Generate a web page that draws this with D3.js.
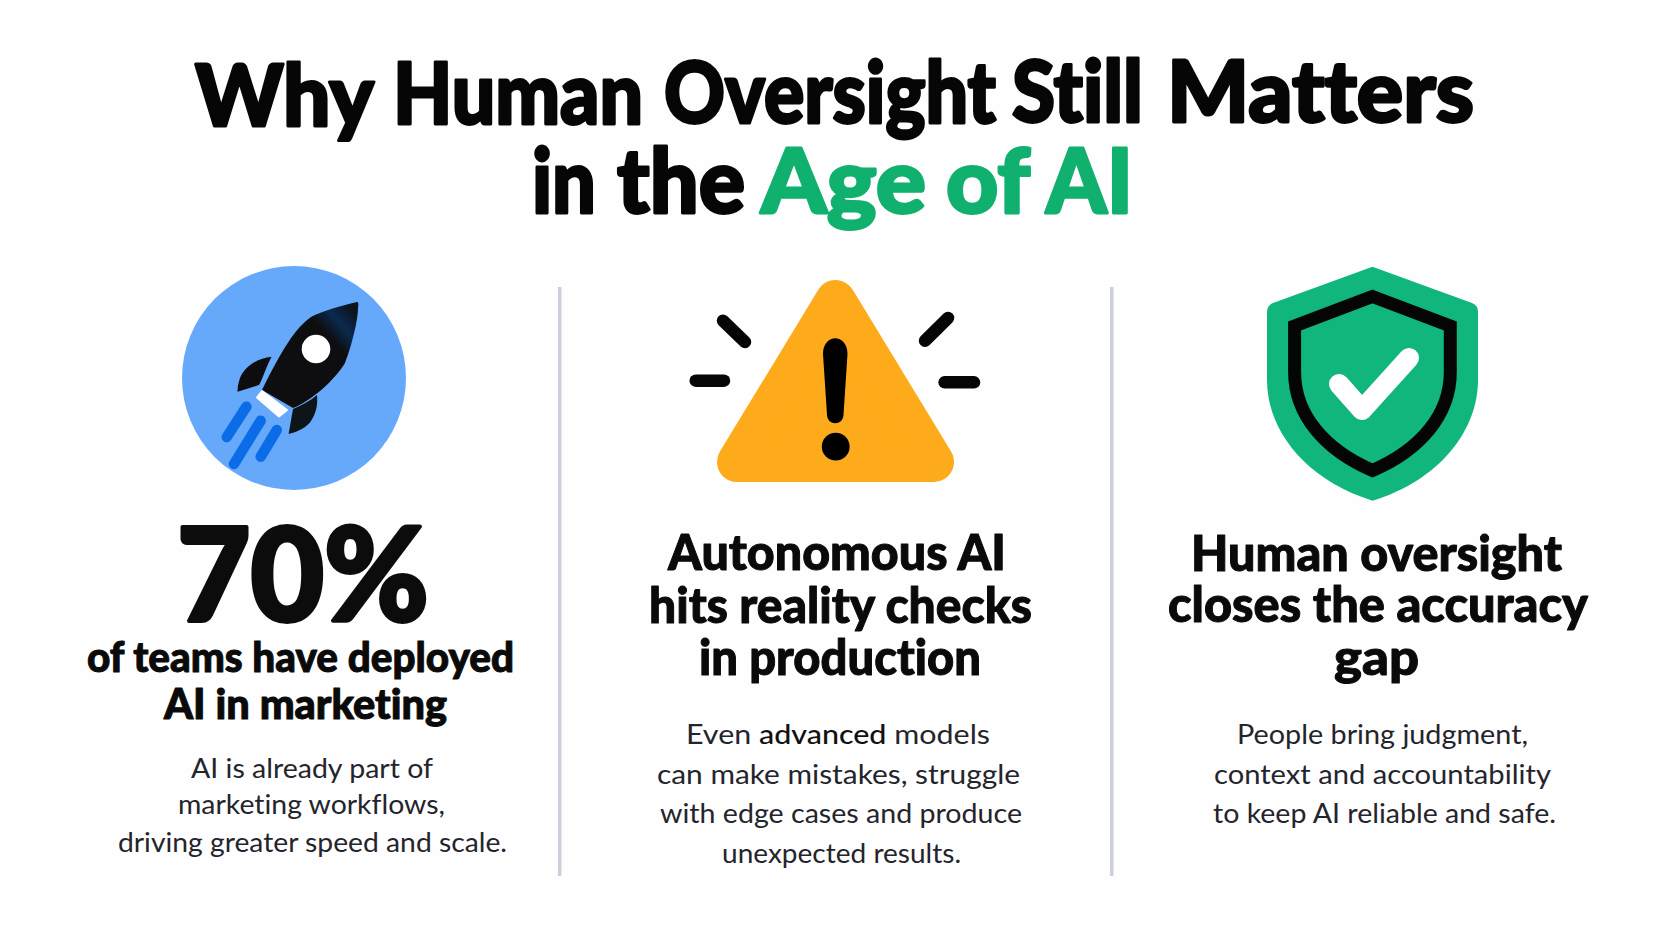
<!DOCTYPE html>
<html>
<head>
<meta charset="utf-8">
<script src="https://cdn.jsdelivr.net/npm/d3@7"></script>
<style>
html, body { margin: 0; padding: 0; background: #fefefe; overflow: hidden; }
text { font-family: Lato, Inter, "Noto Sans", sans-serif; font-variant-ligatures: none; stroke-linejoin: round; }
</style>
</head>
<body>
<svg id="chart" width="1672" height="941"></svg>
<script>
// text of the picture
var titleWords = ["Why", "Human", "Oversight", "Still", "Matters", "in", "the", "Age", "of", "AI"]
var statValue = 70
var statSuffix = "%"
var headLines = ["of teams have deployed", "AI in marketing",
                 "Autonomous AI", "hits reality checks", "in production",
                 "Human oversight", "closes the accuracy", "gap"]
var bodyLines = ["AI is already part of", "marketing workflows,", "driving greater speed and scale.",
                 "Even advanced models", "can make mistakes, struggle", "with edge cases and produce", "unexpected results.",
                 "People bring judgment,", "context and accountability", "to keep AI reliable and safe."]

// where each piece of text sits: [left, right, baseline]
var titlePos = [[195, 374, 126], [393, 643, 124], [664, 996, 123], [1012, 1143, 122], [1167, 1474, 122],
                [532, 596, 213], [617, 745, 213], [761, 926, 213], [946, 1030, 213], [1046, 1133, 213]]
var statPos = [177, 429, 621]
var headPos = [[87, 514, 672], [164, 447, 719],
               [668, 1006, 570], [649, 1032, 623], [699, 981, 675],
               [1191, 1562, 571], [1168, 1588, 622], [1334, 1419, 675]]
var bodyPos = [[191, 433, 778], [178, 445, 814], [118, 507, 852],
               [686, 990, 744], [657, 1020, 784], [660, 1022, 823], [722, 961, 863],
               [1237, 1528, 744], [1214, 1551, 784], [1213, 1556, 823]]

var svg = d3.select("#chart")
svg.append("rect").attr("width", 1672).attr("height", 941).attr("fill", "#fefefe")

var defs = svg.append("defs")
var grad = defs.append("linearGradient").attr("id", "nose")
    .attr("x1", "0.25").attr("y1", "0.6").attr("x2", "0.85").attr("y2", "0")
grad.append("stop").attr("offset", "0.6").attr("stop-color", "#0e0e10")
grad.append("stop").attr("offset", "0.8").attr("stop-color", "#0a2a4e")
grad.append("stop").attr("offset", "1").attr("stop-color", "#0c1420")

// every line is squeezed to the width it has in the picture
var fitted = function(g, labels, pos, size, weight, fill, adjust)
{
    return g.selectAll("text").data(labels).enter().append("text")
        .attr("x", function(d, i) {return pos[i][0]})
        .attr("y", function(d, i) {return pos[i][2]})
        .attr("textLength", function(d, i) {return pos[i][1] - pos[i][0]})
        .attr("lengthAdjust", adjust)
        .attr("font-size", size)
        .attr("font-weight", weight)
        .attr("fill", fill)
        .text(function(d) {return d})
}

// title
fitted(svg.append("g"), titleWords, titlePos,
    function(d, i) {return i < 5 ? 85 : 89}, 900,
    function(d, i) {return i < 7 ? "#060606" : "#10b06e"}, "spacingAndGlyphs")
    .attr("stroke", function(d, i) {return i < 7 ? "#060606" : "#10b06e"})
    .attr("stroke-width", 2.8)

// column dividers
svg.selectAll(".divider").data([559.7, 1111.8]).enter().append("line")
    .attr("class", "divider")
    .attr("x1", function(d) {return d}).attr("x2", function(d) {return d})
    .attr("y1", 287).attr("y2", 876)
    .attr("stroke", "#ccd0dc").attr("stroke-width", 3.5)

// rocket
var rocket = svg.append("g")
rocket.append("circle").attr("cx", 294).attr("cy", 378).attr("r", 112).attr("fill", "#66a9fb")
rocket.append("path").attr("fill", "url(#nose)")
    .attr("d", "M357 302 C340 306 322 311 311 317 C295 328 282 350 262 390 L293 408 C310 402 335 380 345 363 C352 345 358 320 358 308 Q359 301 357 302 Z")
rocket.append("path").attr("fill", "#0d0d0f")
    .attr("d", "M271.5 356.7 C258 358 245 366 240 378 C238 384 237.5 388 237.5 391.7 L259 385 C262 380 265 370 271.5 356.7 Z")
rocket.append("path").attr("fill", "#0d141a")
    .attr("d", "M317 395 C310 401 302 405 293 409 L288.6 434 C298 432 307 427 311 421 C316 413 318 405 317 395 Z")
rocket.append("path").attr("fill", "#fff").attr("stroke", "#fff").attr("stroke-width", 2).attr("stroke-linejoin", "round")
    .attr("d", "M262 391 L287 410 L279 416.5 L257 397.5 Z")
rocket.append("circle").attr("cx", 316).attr("cy", 349).attr("r", 14.3).attr("fill", "#fff")
rocket.selectAll(".flame").data([[246.4, 406.7, 226.8, 437], [260.7, 420.7, 234, 464], [276.8, 430, 260.7, 456.7]]).enter().append("line")
    .attr("class", "flame")
    .attr("x1", function(d) {return d[0]}).attr("y1", function(d) {return d[1]})
    .attr("x2", function(d) {return d[2]}).attr("y2", function(d) {return d[3]})
    .attr("stroke", "#0b6ce8").attr("stroke-width", 10.5).attr("stroke-linecap", "round")

// warning triangle
var warn = svg.append("g")
warn.append("path").attr("fill", "#fdab1a").attr("stroke", "#fdab1a").attr("stroke-width", 40).attr("stroke-linejoin", "round")
    .attr("d", "M835.5 300 L934 462 L737 462 Z")
warn.append("path").attr("fill", "#000")
    .attr("d", "M823 354 C823 333 847.5 333 847.5 354 L843.5 415 C843 426 827.5 426 827 415 Z")
warn.append("circle").attr("cx", 835.7).attr("cy", 446.7).attr("r", 13.9).attr("fill", "#000")
warn.selectAll(".ray").data([[723, 320.7, 745, 342], [948, 318, 925, 340.7], [695.7, 380.7, 724, 380.7], [944.6, 382.3, 974, 382.3]]).enter().append("line")
    .attr("class", "ray")
    .attr("x1", function(d) {return d[0]}).attr("y1", function(d) {return d[1]})
    .attr("x2", function(d) {return d[2]}).attr("y2", function(d) {return d[3]})
    .attr("stroke", "#050505").attr("stroke-width", 12.5).attr("stroke-linecap", "round")

// shield
var shield = svg.append("g")
shield.append("path").attr("fill", "#10b67c")
    .attr("d", "M1372.5 266.7 L1472 303 Q1478 305.5 1478 312 L1478 380 C1478 430 1440 480 1372.5 500.7 C1305 480 1267 430 1267 380 L1267 312 Q1267 305.5 1273 303 Z")
shield.append("path").attr("fill", "none").attr("stroke", "#050505").attr("stroke-width", 13)
    .attr("d", "M1372.5 296.5 L1450.3 326 L1450.3 372 C1450.3 415 1420 450 1372.5 470.5 C1325 450 1294.6 415 1294.6 372 L1294.6 326 Z")
shield.append("path").attr("fill", "none").attr("stroke", "#fff").attr("stroke-width", 20).attr("stroke-linecap", "round").attr("stroke-linejoin", "round")
    .attr("d", "M1339 384 L1362 410 L1409 358")

// big stat
fitted(svg.append("g"), [statValue + statSuffix], [statPos], 130, 900, "#0c0c0c", "spacingAndGlyphs")
    .attr("stroke", "#0c0c0c").attr("stroke-width", 4)

// headings
fitted(svg.append("g"), headLines, headPos,
    function(d, i) {return i < 2 ? 42 : 49}, 900, "#0a0a0b", "spacingAndGlyphs")
    .attr("stroke", "#0a0a0b").attr("stroke-width", 1)

// body copy
var body = fitted(svg.append("g"), bodyLines, bodyPos, 27, 400, "#24252c", "spacingAndGlyphs")
body.filter(function(d) {return d.indexOf("advanced") >= 0})
    .text(null)
    .selectAll("tspan").data(["Even ", "advanced", " models"]).enter().append("tspan")
    .attr("font-weight", function(d) {return d == "advanced" ? 500 : 400})
    .attr("fill", function(d) {return d == "advanced" ? "#111" : "#24252c"})
    .text(function(d) {return d})
</script>
</body>
</html>
